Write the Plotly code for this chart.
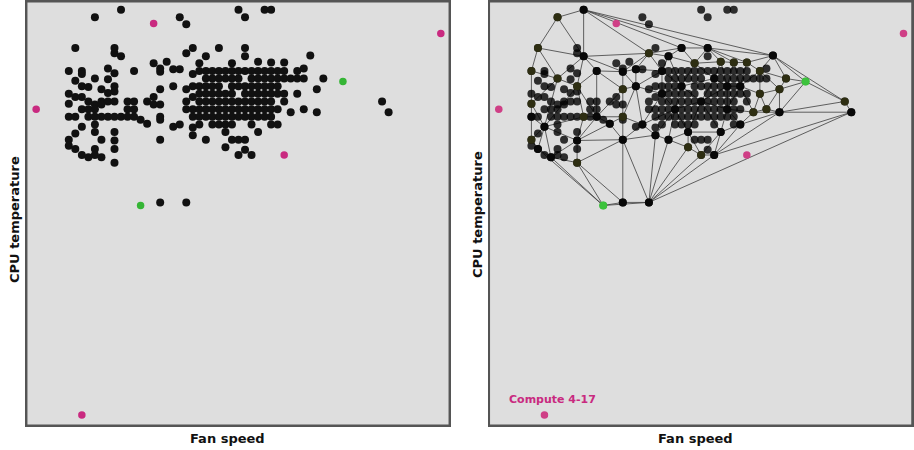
import plotly.graph_objects as go

# ---------------- data (fan speed level, CPU temperature) ----------------
# ordinary hosts (drawn black)
fan_speed = [
    8, 26, 30, 31,
    4, 17, 27,
    18,
    1, 7, 19, 23, 27,
    7, 18,
    8, 21, 27, 37,
    13, 20, 25, 15, 29, 31, 33,
    6, 14, 36, 16, 17,
    0, 2, 10, 14, 20, 21, 22, 23, 24, 25, 26, 27, 28, 29, 30, 31, 32, 33, 35,
    7, 2, 19,
    4, 21, 22, 23, 24, 25, 26, 28, 29, 30, 31, 32, 33, 34, 35, 36, 39, 6, 1,
    2, 7, 16, 19, 20, 21, 22, 23, 25, 26, 27, 28, 29, 30, 31, 32, 3,
    5, 14, 18, 38,
    7, 6, 0, 20, 21, 22, 23, 24, 25, 27, 28, 29, 30, 31, 32, 33, 35,
    1, 2, 13, 19,
    3, 5, 6, 7, 9, 10, 12, 18, 20, 21, 22, 23, 24, 25, 26, 27, 28, 29, 30, 31, 33, 48,
    0, 4, 5, 13, 14,
    2, 3, 4, 9, 10, 18, 19, 20, 21, 22, 23, 24, 25, 26, 27, 28, 29, 30, 31, 32, 36,
    34, 38, 49,
    0, 1, 3, 4, 5, 6, 7, 8, 9, 10, 14, 19, 20, 21, 22, 23, 24, 25, 26, 27, 28, 29, 30, 31,
    11, 14,
    4, 17, 20, 22, 23, 24, 25, 28, 31, 32, 12, 2, 16, 19,
    4, 7, 24, 29, 1, 19,
    0, 5, 14, 21, 25, 26, 27, 7,
    0, 24, 1, 4, 7, 27,
    2, 4, 26, 28, 3, 5,
    7,
    14, 18,
]
cpu_temp = [
    68, 68, 68, 68,
    67, 67, 67,
    66.1,
    63, 63, 63, 63, 63,
    62.3, 62.3,
    61.9, 61.9, 61.9, 62,
    61, 61, 61, 61.2, 61.2, 61.1, 61.1,
    60.3, 60.3, 60.3, 60.2, 60.2,
    60, 60, 60, 59.9, 60, 60, 60, 60, 60, 60, 60, 60, 60, 60, 60, 60, 60, 60, 60,
    59.7, 59.6, 59.6,
    59, 59, 59, 59, 59, 59, 59, 59, 59, 59, 59, 59, 59, 59, 59, 59, 59, 58.9, 58.7,
    58, 58, 58, 58, 58, 58, 58, 58, 58, 58, 58, 58, 58, 58, 58, 58, 57.9,
    57.6, 57.6, 57.6, 57.6,
    57.3, 57.1, 57, 57, 57, 57, 57, 57, 57, 57, 57, 57, 57, 57, 57, 57, 57,
    56.6, 56.6, 56.6, 56.6,
    56, 56, 56, 56, 56, 56, 56, 56, 56, 56, 56, 56, 56, 56, 56, 56, 56, 56, 56, 56, 56, 56,
    55.7, 55.6, 55.6, 55.6, 55.6,
    55, 55, 55, 55, 55, 55, 55, 55, 55, 55, 55, 55, 55, 55, 55, 55, 55, 55, 55, 55, 55,
    54.6, 54.6, 54.6,
    54, 54, 54, 54, 54, 54, 54, 54, 54, 54, 54, 54, 54, 54, 54, 54, 54, 54, 54, 54, 54, 54, 54, 54,
    53.6, 53.6,
    53, 53, 53, 53, 53, 53, 53, 53, 53, 53, 53.1, 52.7, 52.7, 52.6,
    52, 52, 52, 52, 51.8, 51.6,
    51, 51, 51, 51, 51, 51, 51, 50.9,
    50.2, 50, 49.8, 49.8, 49.8, 49.7,
    49, 49, 49, 49, 48.7, 48.7,
    48,
    42.8, 42.8,
]

# outlying hosts (magenta) and flagged hosts (green)
outlier_fan = [13, 57, -5, 33, 2]
outlier_temp = [66.2, 64.9, 55, 49, 15]
flag_fan = [42, 11]
flag_temp = [58.6, 42.4]
label_text = "Compute 4-17"   # host at (2, 15)

# vertices of the mesh in the right panel
node_fan = [8, 4, 1, 0, 0, 0, 0, 1, 3, 7, 11, 14, 18, 49, 48, 37,
            8, 4, 7, 10, 14, 16, 14, 16, 18, 21, 23, 27, 25, 29, 31, 33,
            35, 39, 42, 38, 35, 36, 34, 38, 32, 32, 29, 28, 26, 24, 21, 19,
            14, 12, 14, 8, 10, 7, 17, 24, 2, 20, 23, 28, 22, 26, 30, 20, 30]
node_temp = [68, 67, 63, 60, 55.7, 54, 51, 49.8, 48.7, 48, 42.4, 42.8, 42.8, 54.6, 56, 62,
             61.9, 59, 58, 60, 59.9, 60.2, 57.6, 58, 62.3, 61.9, 63, 63, 61, 61.2, 61.1, 61.1,
             60, 59, 58.6, 57.6, 57, 55, 54.6, 54.6, 58, 53, 52, 49, 49, 50, 51, 51.6,
             51, 53.1, 54, 54, 54, 50.9, 53, 52, 52.7, 60, 58, 59, 55, 56, 55, 57, 58]
node_tone = ["k", "o", "o", "o", "o", "k", "o", "k", "k", "o", "g", "k", "k", "k", "o", "k",
             "k", "o", "o", "k", "k", "k", "o", "k", "o", "k", "k", "k", "o", "o", "o", "o",
             "o", "o", "g", "o", "o", "o", "o", "k", "k", "k", "k", "k", "o", "o", "k", "k",
             "k", "k", "o", "o", "k", "k", "k", "k", "k", "k", "k", "k", "k", "k", "k", "k", "k"]

assert len(fan_speed) == len(cpu_temp)
assert len(node_fan) == len(node_temp) == len(node_tone)

# ---------------- layout constants ----------------
W, H = 914, 450
L_DOM = [26.7 / W, 449.3 / W]
R_DOM = [489.3 / W, 912.0 / W]
Y_DOM = [1 - 425.3 / H, 1 - 1.7 / H]
X_RANGE = [-6.45, 58.3]
Y_RANGE = [13.65, 69.05]

BG = "#dedede"
FRAME = "#555555"
MAGENTA = "#c92a80"
GREEN = "#35b535"
OLIVE = "#2e2e12"
FONT = "DejaVu Sans, Liberation Sans, Arial, sans-serif"


# ---------------- Delaunay triangulation (Bowyer-Watson) ----------------
def delaunay_edges(xs, ys):
    n = len(xs)
    pts = [(xs[i] + 1e-6 * ((i * 7) % 11), ys[i] + 1e-6 * ((i * 13) % 17)) for i in range(n)]
    minx, maxx = min(p[0] for p in pts), max(p[0] for p in pts)
    miny, maxy = min(p[1] for p in pts), max(p[1] for p in pts)
    d = max(maxx - minx, maxy - miny) * 60
    mx, my = (minx + maxx) / 2, (miny + maxy) / 2
    P = pts + [(mx - 2 * d, my - d), (mx + 2 * d, my - d), (mx, my + 2 * d)]

    def circum(a, b, c):
        ax, ay = P[a]
        bx, by = P[b]
        cx, cy = P[c]
        dd = 2 * (ax * (by - cy) + bx * (cy - ay) + cx * (ay - by))
        if abs(dd) < 1e-12:
            return (0.0, 0.0, float("inf"))
        a2, b2, c2 = ax * ax + ay * ay, bx * bx + by * by, cx * cx + cy * cy
        ux = (a2 * (by - cy) + b2 * (cy - ay) + c2 * (ay - by)) / dd
        uy = (a2 * (cx - bx) + b2 * (ax - cx) + c2 * (bx - ax)) / dd
        return (ux, uy, (ax - ux) ** 2 + (ay - uy) ** 2)

    tris = {(n, n + 1, n + 2): circum(n, n + 1, n + 2)}
    for i in range(n):
        px, py = P[i]
        bad = [t for t, (ux, uy, r2) in tris.items() if (px - ux) ** 2 + (py - uy) ** 2 < r2]
        cnt = {}
        for t in bad:
            for e in ((t[0], t[1]), (t[1], t[2]), (t[2], t[0])):
                key = tuple(sorted(e))
                cnt[key] = cnt.get(key, 0) + 1
        for t in bad:
            del tris[t]
        for e, c in cnt.items():
            if c == 1:
                t = (e[0], e[1], i)
                tris[t] = circum(*t)
    edges = set()
    for t in tris:
        if max(t) >= n:
            continue
        for e in ((t[0], t[1]), (t[1], t[2]), (t[2], t[0])):
            edges.add(tuple(sorted(e)))
    return sorted(edges)


# pixel scale of the panels so the triangulation is made in screen space
sx = (L_DOM[1] - L_DOM[0]) * W / (X_RANGE[1] - X_RANGE[0])
sy = (Y_DOM[1] - Y_DOM[0]) * H / (Y_RANGE[1] - Y_RANGE[0])
edges = delaunay_edges([f * sx for f in node_fan], [t * sy for t in node_temp])
line_x, line_y = [], []
for a, b in edges:
    line_x += [node_fan[a], node_fan[b], None]
    line_y += [node_temp[a], node_temp[b], None]

# ---------------- figure ----------------
fig = go.Figure()

# left panel
fig.add_trace(go.Scatter(x=fan_speed, y=cpu_temp, mode="markers",
                         marker=dict(size=8, color="#111111"),
                         xaxis="x", yaxis="y", hoverinfo="skip"))
fig.add_trace(go.Scatter(x=outlier_fan, y=outlier_temp, mode="markers",
                         marker=dict(size=7.5, color=MAGENTA),
                         xaxis="x", yaxis="y", hoverinfo="skip"))
fig.add_trace(go.Scatter(x=flag_fan, y=flag_temp, mode="markers",
                         marker=dict(size=7.5, color=GREEN),
                         xaxis="x", yaxis="y", hoverinfo="skip"))

# right panel
fig.add_trace(go.Scatter(x=line_x, y=line_y, mode="lines",
                         line=dict(color="#3c3c3c", width=0.8),
                         xaxis="x2", yaxis="y2", hoverinfo="skip"))
fig.add_trace(go.Scatter(x=fan_speed, y=cpu_temp, mode="markers",
                         marker=dict(size=8, color="rgba(0,0,0,0.8)"),
                         xaxis="x2", yaxis="y2", hoverinfo="skip"))
tone_color = {"k": "#080808", "o": OLIVE, "g": GREEN}
fig.add_trace(go.Scatter(x=node_fan, y=node_temp, mode="markers",
                         marker=dict(size=8, color=[tone_color[t] for t in node_tone]),
                         xaxis="x2", yaxis="y2", hoverinfo="skip"))
fig.add_trace(go.Scatter(x=outlier_fan, y=outlier_temp, mode="markers",
                         marker=dict(size=7.5, color="#cf3f86"),
                         xaxis="x2", yaxis="y2", hoverinfo="skip"))
fig.add_trace(go.Scatter(x=flag_fan, y=flag_temp, mode="markers",
                         marker=dict(size=7.5, color="#3cc23c"),
                         xaxis="x2", yaxis="y2", hoverinfo="skip"))

axis_common = dict(range=X_RANGE, showticklabels=False, ticks="", showgrid=False,
                   zeroline=False, showline=True, mirror=True,
                   linecolor=FRAME, linewidth=1.5, fixedrange=True)
yaxis_common = dict(axis_common, range=Y_RANGE)

title_font = dict(size=13, family=FONT, color="#111111")

fig.update_layout(
    width=W, height=H,
    margin=dict(l=0, r=0, t=0, b=0),
    paper_bgcolor="white",
    plot_bgcolor=BG,
    showlegend=False,
    hovermode=False,
    font=dict(family=FONT, color="#111111"),
    xaxis=dict(axis_common, domain=L_DOM, anchor="y"),
    yaxis=dict(yaxis_common, domain=Y_DOM, anchor="x"),
    xaxis2=dict(axis_common, domain=R_DOM, anchor="y2"),
    yaxis2=dict(yaxis_common, domain=Y_DOM, anchor="x2"),
    shapes=[
        dict(type="rect", xref="paper", yref="paper", x0=L_DOM[0], x1=L_DOM[1],
             y0=Y_DOM[0], y1=Y_DOM[1], line=dict(color=FRAME, width=1.5), layer="above"),
        dict(type="rect", xref="paper", yref="paper", x0=R_DOM[0], x1=R_DOM[1],
             y0=Y_DOM[0], y1=Y_DOM[1], line=dict(color=FRAME, width=1.5), layer="above"),
    ],
    annotations=[
        dict(text="<b>Fan speed</b>", xref="paper", yref="paper", x=227 / W, y=1 - 438 / H,
             showarrow=False, font=title_font, xanchor="center", yanchor="middle"),
        dict(text="<b>Fan speed</b>", xref="paper", yref="paper", x=695 / W, y=1 - 438 / H,
             showarrow=False, font=title_font, xanchor="center", yanchor="middle"),
        dict(text="<b>CPU temperature</b>", xref="paper", yref="paper", x=14 / W, y=1 - 220 / H,
             showarrow=False, textangle=-90, font=title_font,
             xanchor="center", yanchor="middle"),
        dict(text="<b>CPU temperature</b>", xref="paper", yref="paper", x=477 / W, y=1 - 215 / H,
             showarrow=False, textangle=-90, font=title_font,
             xanchor="center", yanchor="middle"),
        dict(text="<b>" + label_text + "</b>", xref="x2", yref="y2",
             x=outlier_fan[4], y=outlier_temp[4], showarrow=False,
             xshift=8, yshift=15, font=dict(size=11, family=FONT, color=MAGENTA),
             xanchor="center", yanchor="middle"),
    ],
)

fig.write_html("out.html", config={"displayModeBar": False, "staticPlot": True},
               post_script="document.body.style.margin='0px';")
